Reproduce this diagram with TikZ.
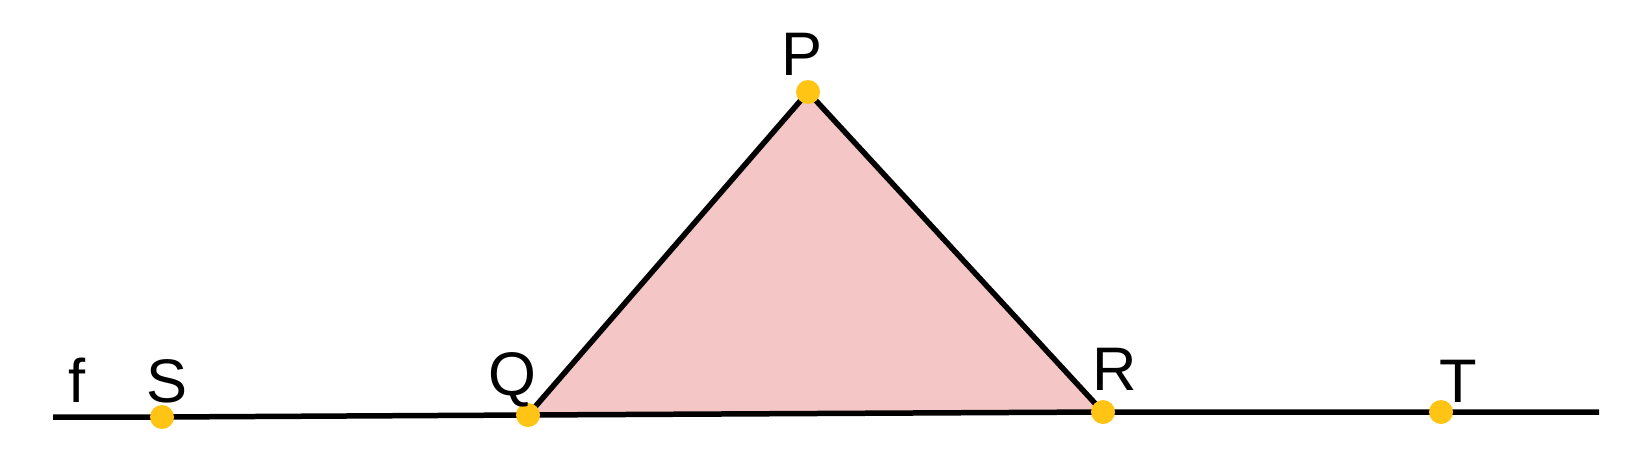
\documentclass[tikz,border=0pt]{standalone}
\usepackage{fontspec}
\setmainfont{Liberation Sans}
\usepackage{tikz}
\usetikzlibrary{calc, positioning}
\definecolor{tripink}{RGB}{244,198,198}
\definecolor{dotyellow}{RGB}{255,196,20}
\tikzstyle{pt}=[circle, fill=dotyellow, inner sep=0pt, minimum size=0.24cm]
\tikzstyle{lbl}=[inner sep=0pt, anchor=base, font=\fontsize{17.5}{20}\selectfont]
\tikzstyle{edge}=[line width=0.055cm, black]

\begin{document}
\begin{tikzpicture}
      \useasboundingbox (0,0) rectangle (16.28,4.61);
      \coordinate (start) at (0.53,0.44);
      \coordinate (end) at (15.99,0.49);
      \coordinate (p) at (8.08,3.69);
      \coordinate (q) at (5.28,0.46);
      \coordinate (r) at (11.03,0.49);
      \coordinate (s) at (1.62,0.44);
      \coordinate (t) at (14.41,0.49);

      \fill[tripink] (q) -- (p) -- (r) -- cycle;
      \draw[edge] (start) -- (s) -- (q) -- (r) -- (t) -- (end);
      \draw[edge, line join=round] (q) -- (p) -- (r);

      \node [pt] (P) at (p) {};
      \node [pt] (Q) at (q) {};
      \node [pt] (R) at (r) {};
      \node [pt] (S) at (s) {};
      \node [pt] (T) at (t) {};

      \node [lbl] (lf) at (0.77,0.59) {f};
      \node [lbl] (lS) at (1.67,0.59) {S};
      \node [lbl] (lQ) at (5.12,0.66) {Q};
      \node [lbl] (lP) at (8.02,3.86) {P};
      \node [lbl] (lR) at (11.15,0.71) {R};
      \node [lbl] (lT) at (14.58,0.59) {T};
\end{tikzpicture}
\end{document}
